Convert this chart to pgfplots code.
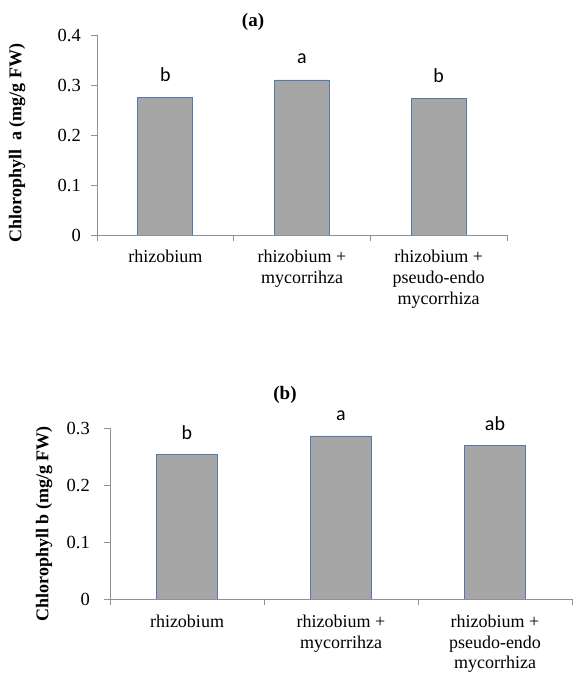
\documentclass[border=0pt]{standalone}
\usepackage{pgfplots}
\pgfplotsset{compat=1.18}
\usepackage{fontspec}
\setmainfont{Liberation Serif}
\newfontfamily\calibri{Carlito}
\definecolor{barfill}{RGB}{166,166,166}
\definecolor{baredge}{RGB}{79,122,175}
\definecolor{axgray}{RGB}{145,145,145}
\pgfplotsset{
  panel/.style={
    scale only axis, axis lines*=left,
    axis line style={axgray, line width=0.9bp},
    xmin=-0.5, xmax=2.5, ymin=0,
    xtick={-0.5,0.5,1.5,2.5}, xticklabels={},
    extra x ticks={0,1,2},
    extra x tick labels={rhizobium, rhizobium +\\mycorrihza, rhizobium +\\pseudo-endo\\mycorrhiza},
    extra x tick style={major tick length=0pt},
    tick align=outside, major tick length=6bp,
    tick style={axgray, line width=0.9bp},
    xticklabel style={align=center, font=\fontsize{18bp}{21bp}\selectfont, anchor=north, inner sep=0pt},
    yticklabel style={font=\fontsize{18.5bp}{21bp}\selectfont, anchor=east, inner sep=0pt, /pgf/number format/fixed},
    /pgf/number format/assume math mode=true,
    ybar,
    nodes near coords, point meta=explicit symbolic,
    nodes near coords style={font=\calibri\fontsize{20bp}{24bp}\selectfont, anchor=base, text=black},
  }
}
\begin{document}
\begin{tikzpicture}
\path[use as bounding box] (0bp,0bp) rectangle (574bp,673bp);
\begin{axis}[panel, at={(97bp,438bp)}, anchor=south west, width=410bp, height=200bp,
  ymax=0.4, ytick={0,0.1,0.2,0.3,0.4}, bar width=55bp,
  nodes near coords style={yshift=16bp},
  yticklabel style={xshift=-10bp},
  xticklabel style={yshift=-15bp}]
\addplot[fill=barfill, draw=baredge, line width=0.8bp] coordinates {(0,0.275) [b] (1,0.310) [a] (2,0.273) [b]};
\end{axis}
\node[rotate=90, font=\bfseries\fontsize{18bp}{21bp}\selectfont] at (17bp,530bp) {Chlorophyll\ \ a (mg/g FW)};
\node[font=\bfseries\fontsize{19bp}{22bp}\selectfont] at (253bp,651bp) {(a)};
\begin{axis}[panel, at={(110bp,74bp)}, anchor=south west, width=462bp, height=171bp,
  ymax=0.3, ytick={0,0.1,0.2,0.3}, bar width=61bp,
  nodes near coords style={yshift=15bp},
  yticklabel style={xshift=-14bp},
  xticklabel style={yshift=-16bp, font=\fontsize{18bp}{20.5bp}\selectfont}]
\addplot[fill=barfill, draw=baredge, line width=0.8bp] coordinates {(0,0.254) [b] (1,0.286) [a] (2,0.270) [ab]};
\end{axis}
\node[rotate=90, font=\bfseries\fontsize{18bp}{21bp}\selectfont] at (44bp,149bp) {Chlorophyll b (mg/g FW)};
\node[font=\bfseries\fontsize{19bp}{22bp}\selectfont] at (285bp,278bp) {(b)};
\end{tikzpicture}
\end{document}
